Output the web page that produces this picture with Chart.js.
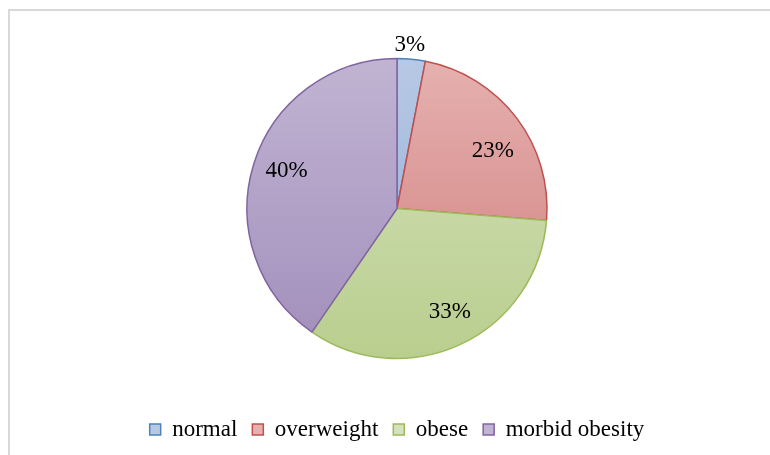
<!DOCTYPE html>
<html>
<head>
<meta charset="utf-8">
<script src="https://cdn.jsdelivr.net/npm/chart.js@4/dist/chart.umd.min.js"></script>
<style>
  html, body { margin: 0; padding: 0; background: #fff; overflow: hidden; }
  #wrap { position: relative; width: 770px; height: 455px; }
  #frame {
    position: absolute; left: 8px; top: 9px; width: 780px; height: 460px;
    border-top: 2px solid #d9d9d9; border-left: 2px solid #d9d9d9;
  }
  #chart { position: absolute; left: 0; top: 0; }
</style>
</head>
<body>
<div id="wrap">
  <div id="frame"></div>
  <canvas id="chart" width="770" height="455"></canvas>
</div>
<script>
// ================= Data =================
const categories = ["normal", "overweight", "obese", "morbid obesity"];
const shares = [3, 23, 33, 40];

// ================= Look =================
const edgeColors = ["#4F81BD", "#C0504D", "#9BBB59", "#8064A2"];
const fillTop = ["#B7C9E4", "#E5B1B0", "#D5E2BD", "#C1B4D2"];
const fillBottom = ["#90AAD4", "#D07D7B", "#B9CE8E", "#A18EBB"];
// label distance (fraction of radius) and small turn (degrees) off the mid angle
const labelRadius = [1.1, 0.75, 0.77, 0.78];
const labelTurn = [-1, 5.7, -1.7, 2.1];
const PIE_RADIUS = 150;
const FONT = "'Liberation Serif', 'Times New Roman', serif";

// vertical gradient across the whole pie, lighter at the top
function sliceFill(ctx) {
  const chart = ctx.chart;
  const area = chart.chartArea;
  if (!area) return fillTop[ctx.dataIndex];
  const cy = (area.top + area.bottom) / 2;
  const g = chart.ctx.createLinearGradient(0, cy - PIE_RADIUS, 0, cy + PIE_RADIUS);
  g.addColorStop(0, fillTop[ctx.dataIndex]);
  g.addColorStop(1, fillBottom[ctx.dataIndex]);
  return g;
}

// percent labels placed along each slice's middle angle
const sliceLabels = {
  id: "sliceLabels",
  afterDatasetsDraw(chart) {
    const ctx = chart.ctx;
    const meta = chart.getDatasetMeta(0);
    ctx.save();
    ctx.font = "23px " + FONT;
    ctx.fillStyle = "#000";
    ctx.textAlign = "center";
    ctx.textBaseline = "middle";
    meta.data.forEach((arc, i) => {
      const mid = (arc.startAngle + arc.endAngle) / 2 + labelTurn[i] * Math.PI / 180;
      const r = arc.outerRadius * labelRadius[i];
      const x = arc.x + Math.cos(mid) * r;
      const y = arc.y + Math.sin(mid) * r;
      ctx.fillText(shares[i] + "%", x, y + 1);
    });
    ctx.restore();
  }
};

new Chart(document.getElementById("chart"), {
  type: "pie",
  data: {
    labels: categories,
    datasets: [{
      data: shares,
      backgroundColor: sliceFill,
      borderColor: edgeColors,
      borderWidth: 1.5,
      radius: PIE_RADIUS,
      hoverOffset: 0
    }]
  },
  options: {
    responsive: false,
    animation: false,
    layout: { padding: { left: 24, right: 0, top: 14, bottom: 4 } },
    plugins: {
      tooltip: { enabled: false },
      legend: {
        position: "bottom",
        labels: {
          color: "#000",
          font: { family: FONT, size: 23 },
          boxWidth: 11,
          boxHeight: 11,
          padding: 15,
          generateLabels(chart) {
            return categories.map((name, i) => ({
              text: name,
              fillStyle: fillTop[i],
              strokeStyle: edgeColors[i],
              lineWidth: 1.5,
              index: i,
              hidden: false
            }));
          }
        }
      }
    }
  },
  plugins: [sliceLabels]
});
</script>
</body>
</html>
